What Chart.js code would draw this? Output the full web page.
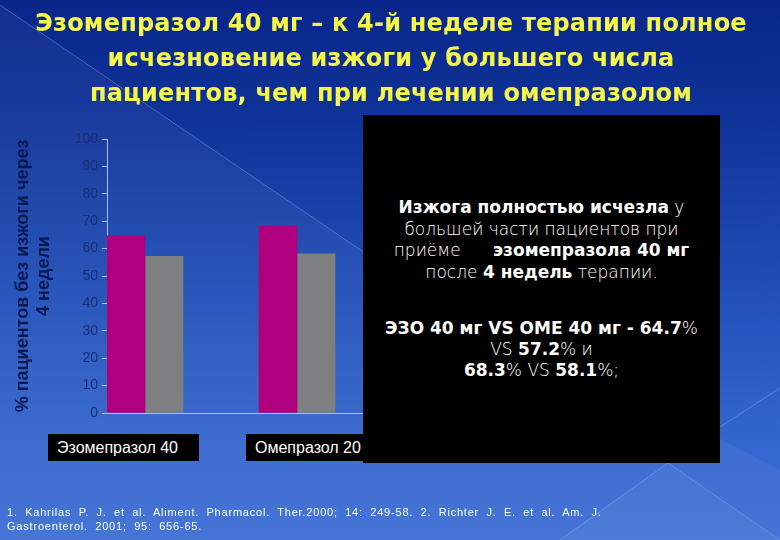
<!DOCTYPE html>
<html lang="ru">
<head>
<meta charset="utf-8">
<script src="https://cdn.jsdelivr.net/npm/chart.js@4/dist/chart.umd.min.js"></script>
<style>
  html, body { margin: 0; padding: 0; }
  body {
    width: 780px; height: 540px; overflow: hidden; position: relative;
    background: linear-gradient(180deg, #09268a 0%, #0f3399 22%, #2150b9 55%, #3366cc 80%, #3d70d6 100%);
    font-family: "Liberation Sans", Arial, sans-serif;
  }
  #deco { position: absolute; left: 0; top: 0; }
  #wrap { position: absolute; left: 0; top: 0; width: 780px; height: 540px; }
  #title {
    position: absolute; left: 0; top: 6px; width: 782px; text-align: center;
    font-family: "DejaVu Sans", sans-serif; font-weight: bold; font-size: 24px;
    line-height: 35px; color: #f6f64a; letter-spacing: 0.2px;
  }
  #box {
    position: absolute; left: 363px; top: 115px; width: 357px; height: 348px;
    background: #000; color: #fff; text-align: center;
    font-family: "DejaVu Sans", sans-serif; font-size: 17px; font-weight: 300;
  }
  #box p { margin: 0; line-height: 21.5px; }
  #box b { font-weight: bold; }
  #box .p1 { padding-top: 82px; }
  #box .p2 { margin-top: 35px; line-height: 21px; }
  .cat {
    position: absolute; top: 434px; height: 27px; background: #000; color: #fff;
    font-family: "Liberation Sans", Arial, sans-serif; font-size: 16px; line-height: 27px;
    padding-left: 9px; box-sizing: border-box; white-space: nowrap;
  }
  #foot {
    position: absolute; left: 7px; top: 506px; color: #fff;
    font-family: "Liberation Sans", Arial, sans-serif; font-size: 11px; line-height: 13.5px;
    word-spacing: 3.5px; letter-spacing: 0.8px;
  }
</style>
</head>
<body>
<svg id="deco" width="780" height="540">
  <polygon points="0,5 0,540 780,540 780,470 365,253" fill="rgba(255,255,255,0.045)"/>
  <line x1="0" y1="5" x2="365" y2="253" stroke="rgba(170,200,255,0.35)" stroke-width="1"/>
  <polygon points="560,540 668,463 780,540" fill="rgba(255,255,255,0.04)"/>
  <line x1="560" y1="540" x2="668" y2="463" stroke="rgba(170,200,255,0.35)" stroke-width="1"/>
  <line x1="668" y1="463" x2="780" y2="540" stroke="rgba(170,200,255,0.3)" stroke-width="1"/>
  <line x1="700" y1="440" x2="780" y2="388" stroke="rgba(170,200,255,0.35)" stroke-width="1"/>
</svg>
<div id="wrap"><canvas id="c" width="780" height="540"></canvas></div>
<div id="title">Эзомепразол 40 мг – к 4-й неделе терапии полное<br>исчезновение изжоги у большего числа<br>пациентов, чем при лечении омепразолом</div>
<div id="cat0" class="cat" style="left:48px; width:151px;"></div>
<div id="cat1" class="cat" style="left:246px; width:125px;"></div>
<div id="box">
  <p class="p1"><b>Изжога полностью исчезла</b> у<br>большей части пациентов при<br>приёме&nbsp;&nbsp;&nbsp;&nbsp;&nbsp; <b>эзомепразола 40 мг</b><br>после <b>4 недель</b> терапии.</p>
  <p class="p2"><b>ЭЗО 40 мг VS ОМЕ 40 мг - 64.7</b>%<br>VS <b>57.2</b>% и<br><b>68.3</b>% VS <b>58.1</b>%;</p>
</div>
<div id="foot">1. Kahrilas P. J. et al. Aliment. Pharmacol. Ther.2000; 14: 249-58. 2. Richter J. E. et al. Am. J.<br>Gastroenterol. 2001; 95: 656-65.</div>
<script>
// ---- data ----
const categories = ['Эзомепразол 40', 'Омепразол 20'];
const esomeprazoleValues = [64.7, 68.3];
const omeprazoleValues = [57.2, 58.1];
const yTickValues = [0, 10, 20, 30, 40, 50, 60, 70, 80, 90, 100];
const yAxisTitle = ['% пациентов без изжоги через', '4 недели'];

document.getElementById('cat0').textContent = categories[0];
document.getElementById('cat1').textContent = categories[1];

const axisColor = '#a9c0f0';

new Chart(document.getElementById('c'), {
  type: 'bar',
  data: {
    labels: categories,
    datasets: [
      { label: 'Эзомепразол 40 мг', data: esomeprazoleValues, backgroundColor: '#b0007f' },
      { label: 'Омепразол 40 мг', data: omeprazoleValues, backgroundColor: '#7e7f81' },
      // empty slots of the original grouped layout (bars sit at the left of each category)
      { label: '', data: [], backgroundColor: 'rgba(0,0,0,0)' },
      { label: '', data: [], backgroundColor: 'rgba(0,0,0,0)' }
    ]
  },
  options: {
    responsive: false,
    animation: false,
    devicePixelRatio: 1,
    datasets: { bar: { barPercentage: 1, categoryPercentage: 1 } },
    layout: { padding: { left: 0, top: 139, right: 369, bottom: 127 } },
    plugins: { legend: { display: false }, tooltip: { enabled: false }, title: { display: false } },
    scales: {
      x: {
        type: 'category',
        offset: true,
        grid: { display: false },
        ticks: { display: false },
        border: { display: true, color: axisColor, width: 1 },
        afterFit: s => { s.height = 0; }
      },
      y: {
        min: 0, max: 100,
        afterBuildTicks: s => { s.ticks = yTickValues.map(v => ({ value: v })); },
        ticks: {
          color: '#1c2d70',
          font: { family: 'Liberation Sans', size: 14 },
          padding: 4
        },
        grid: { drawOnChartArea: false, tickLength: 5, color: axisColor },
        border: { display: true, color: axisColor, width: 1 },
        title: {
          display: true,
          text: yAxisTitle,
          color: '#0b1850',
          font: { family: 'Liberation Sans', size: 18, weight: 'bold', lineHeight: 1.2 },
          padding: { top: 12, bottom: 0 }
        },
        afterFit: s => { s.width = 107; }
      }
    }
  }
});
</script>
</body>
</html>
